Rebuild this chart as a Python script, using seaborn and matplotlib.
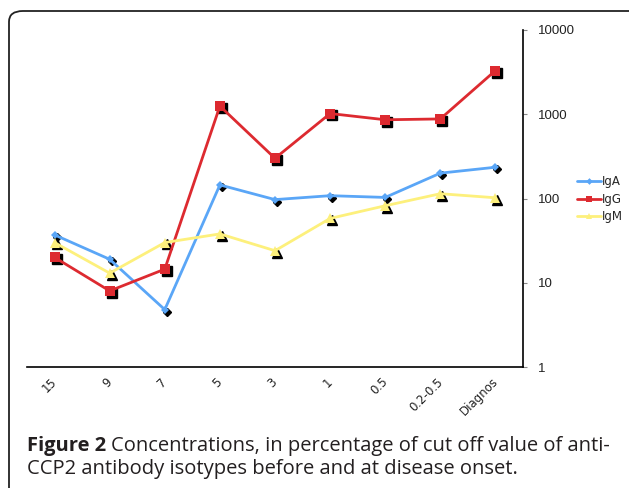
import matplotlib
matplotlib.use("Agg")
import matplotlib.pyplot as plt
import matplotlib.transforms as mtransforms
from matplotlib.patches import FancyBboxPatch
from matplotlib.lines import Line2D
import seaborn as sns
import pandas as pd

categories = ["15", "9", "7", "5", "3", "1", "0.5", "0.2-0.5", "Diagnos"]
iga = [37, 19, 4.8, 145, 97, 108, 103, 200, 235]
igg = [20, 8, 14.5, 1250, 300, 1020, 860, 880, 3300]
igm = [30, 13, 30, 38, 24, 58, 82, 114, 102]
series_names = ["IgA", "IgG", "IgM"]
y_ticks = [1, 10, 100, 1000, 10000]

colors = {"IgA": "#5aa6f7", "IgG": "#dd2a30", "IgM": "#fdf07c"}
markers = {"IgA": "D", "IgG": "s", "IgM": "^"}
msizes = {"IgA": 4.5, "IgG": 6.5, "IgM": 6.5}

sns.set_style("white")
plt.rcParams["font.family"] = ["DejaVu Sans"]

fig = plt.figure(figsize=(6.29, 4.88), dpi=100)
frame = FancyBboxPatch((9 / 629, -0.2), 1.2, 1.2 - 11 / 488,
                       boxstyle="round,pad=0,rounding_size=0.022",
                       transform=fig.transFigure, fill=False,
                       edgecolor="#222222", linewidth=1.3)
fig.patches.append(frame)

ax = fig.add_axes([27 / 629, 1 - 367 / 488, (523 - 27) / 629, (367 - 30) / 488])
ax.patch.set_alpha(0)

df = pd.DataFrame({
    "time": categories * 3,
    "value": iga + igg + igm,
    "series": [s for s in series_names for _ in categories],
})
df["pos"] = [i for _ in series_names for i in range(len(categories))]

shadow = mtransforms.offset_copy(ax.transData, fig=fig, x=1.4, y=-1.4, units="points")
for name, vals in zip(series_names, [iga, igg, igm]):
    ax.plot(range(len(categories)), vals, linestyle="none", marker=markers[name],
            markersize=msizes[name], color="black", transform=shadow, zorder=2)

sns.lineplot(data=df, x="pos", y="value", hue="series", style="series",
             palette=colors, markers=markers, dashes=False, linewidth=2,
             ax=ax, zorder=3, legend=False)
for line, name in zip(ax.get_lines()[3:], series_names):
    line.set_markersize(msizes[name])
    line.set_markeredgewidth(0)

ax.set_yscale("log")
ax.set_ylim(1, 10000)
ax.set_xlim(-0.5, len(categories) - 0.5)

ax.yaxis.tick_right()
ax.set_yticks(y_ticks)
ax.set_yticklabels([str(t) for t in y_ticks], fontfamily="Liberation Sans", fontsize=9.5, color="#222222")
ax.yaxis.set_minor_locator(matplotlib.ticker.NullLocator())
ax.tick_params(axis="y", which="major", direction="out", length=3, width=0.8, color="#888888", pad=8)

ax.set_xticks(range(len(categories)))
ax.set_xticklabels(categories, rotation=45, ha="right", fontsize=8.5, color="#222222")
ax.set_xticks([i - 0.5 for i in range(len(categories) + 1)], minor=True)
ax.tick_params(axis="x", which="major", length=0, pad=6)
ax.tick_params(axis="x", which="minor", direction="out", length=3, width=0.8, color="#999999")
off = mtransforms.ScaledTranslation(5 / 100, 0, fig.dpi_scale_trans)
for lbl in ax.get_xticklabels():
    lbl.set_transform(lbl.get_transform() + off)

for side in ["top", "left"]:
    ax.spines[side].set_visible(False)
for side in ["bottom", "right"]:
    ax.spines[side].set_visible(True)
    ax.spines[side].set_color("black")
    ax.spines[side].set_linewidth(1.2)
ax.set_xlabel("")
ax.set_ylabel("")
ax.grid(False)

handles = [Line2D([0], [0], color=colors[n], marker=markers[n], markersize=msizes[n] * 0.75,
                  markeredgewidth=0, linewidth=2) for n in series_names]
fig.legend(handles, series_names, loc="upper left", bbox_to_anchor=(577 / 629, 1 - 175 / 488),
           frameon=False, fontsize=8.5, handlelength=2.0, handletextpad=0.1,
           labelspacing=0.4, borderaxespad=0, borderpad=0)

cap_size = 14.5
cap_x = 27 / 629
t1 = fig.text(cap_x, 1 - 451 / 488, "Figure 2", fontfamily="Open Sans", fontweight="bold",
              fontsize=cap_size, color="#231f20", ha="left", va="baseline")
fig.canvas.draw()
bb = t1.get_window_extent()
fig.text((bb.x1 + 5) / 629, 1 - 451 / 488,
         "Concentrations, in percentage of cut off value of anti-",
         fontfamily="Open Sans", fontsize=cap_size, color="#231f20", ha="left", va="baseline")
fig.text(cap_x, 1 - 474 / 488, "CCP2 antibody isotypes before and at disease onset.",
         fontfamily="Open Sans", fontsize=cap_size, color="#231f20", ha="left", va="baseline")

fig.savefig("out.png", dpi=100)
